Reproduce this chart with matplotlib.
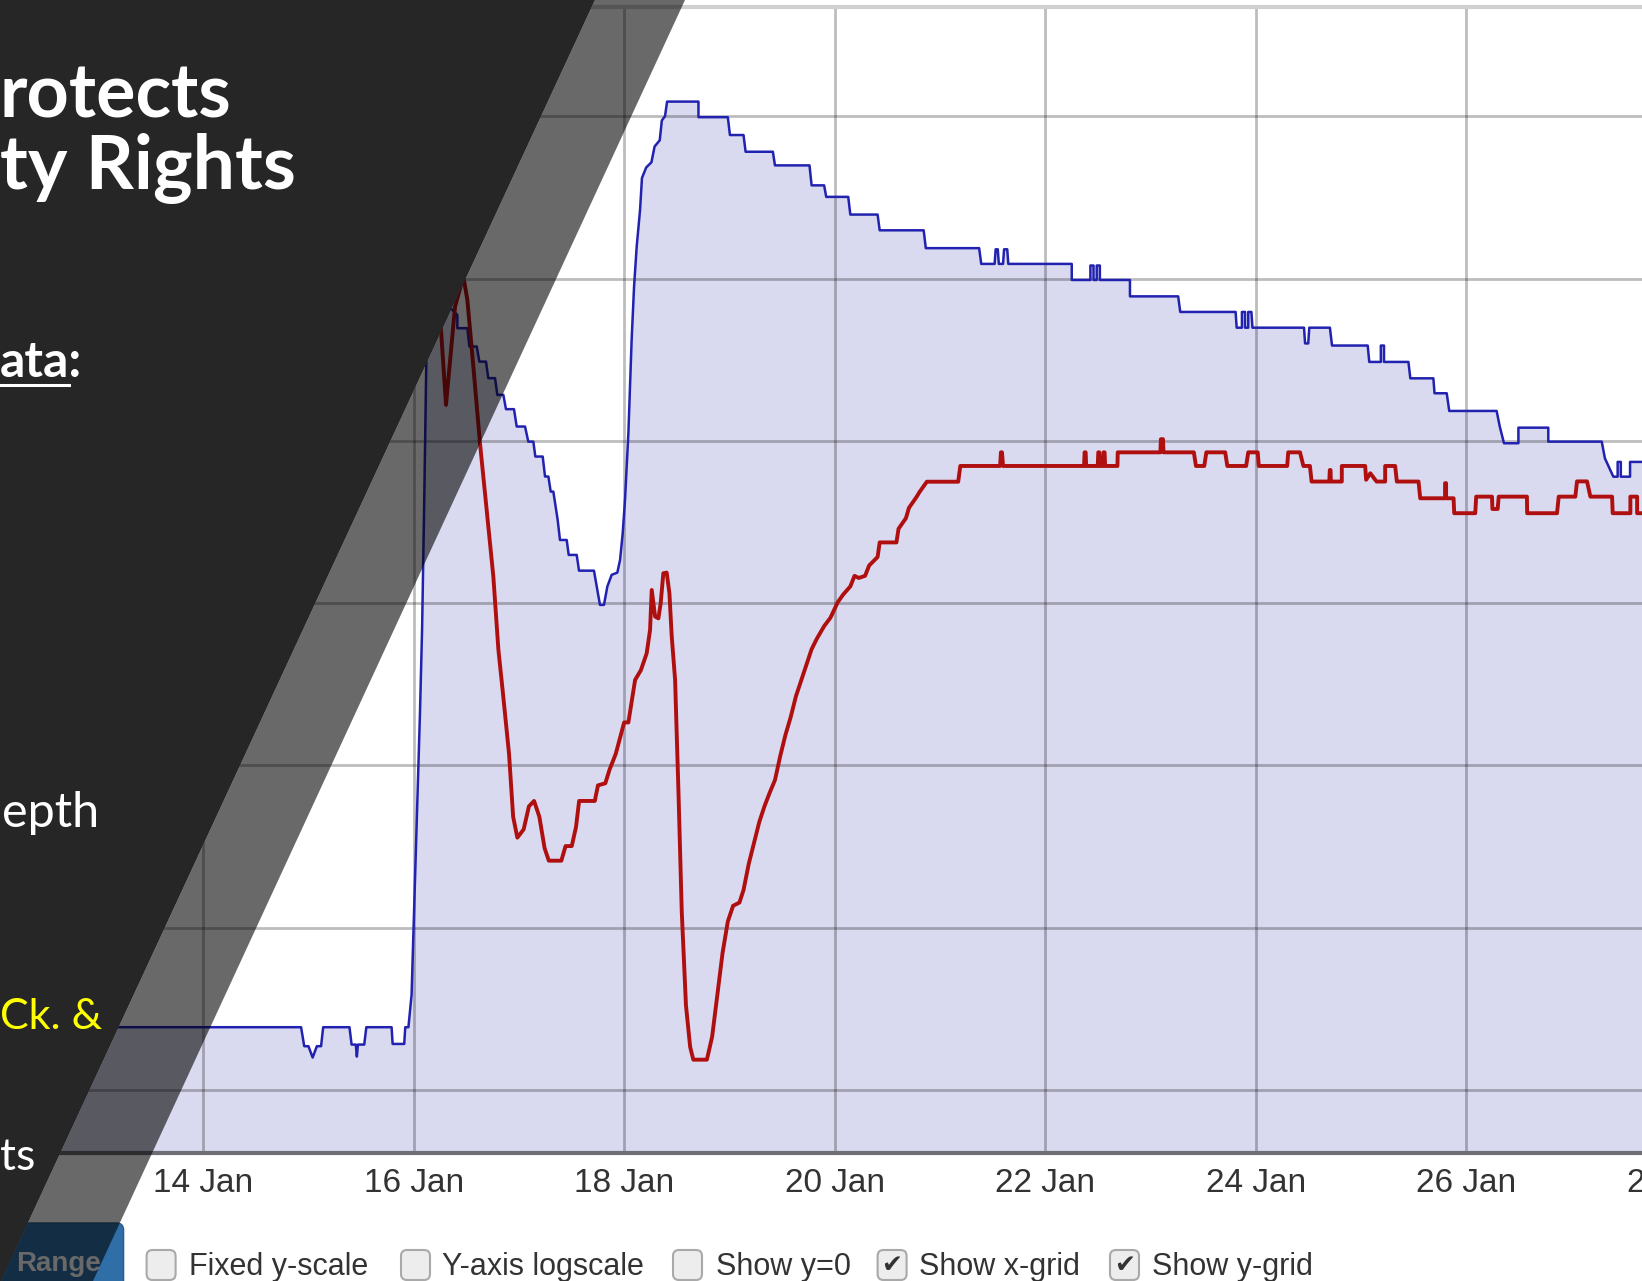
import matplotlib.pyplot as plt
from matplotlib.patches import Polygon, FancyBboxPatch
from matplotlib.lines import Line2D

W, H = 1642, 1281

# blue series (day of January, level) - stepped, filled to the bottom
blue_points = [
    (11.5, 1.387), (14.93, 1.387), (14.96, 1.27), (15.00, 1.27), (15.04, 1.20), (15.08, 1.27), (15.12, 1.27), (15.14, 1.387),
    (15.39, 1.387), (15.41, 1.28), (15.45, 1.28), (15.46, 1.206), (15.47, 1.28), (15.53, 1.28), (15.55, 1.387),
    (15.79, 1.387), (15.80, 1.284), (15.91, 1.284), (15.92, 1.387),
    (15.95, 1.387), (15.98, 1.587), (16.01, 2.232), (16.04, 2.877), (16.06, 3.329), (16.08, 3.845), (16.10, 4.619),
    (16.12, 5.49), (16.15, 5.75), (16.20, 5.85), (16.30, 5.85), (16.415, 5.776),
    (16.415, 5.694), (16.510, 5.694), (16.529, 5.581), (16.599, 5.581), (16.624, 5.488), (16.687, 5.488),
    (16.709, 5.386), (16.773, 5.386), (16.795, 5.283), (16.852, 5.283), (16.877, 5.195), (16.953, 5.195),
    (16.979, 5.088), (17.058, 5.088), (17.089, 4.995), (17.137, 4.995), (17.156, 4.903), (17.226, 4.903),
    (17.248, 4.780), (17.280, 4.780), (17.302, 4.687), (17.327, 4.687), (17.349, 4.595), (17.368, 4.513),
    (17.390, 4.389), (17.454, 4.389), (17.473, 4.297), (17.549, 4.297), (17.571, 4.200), (17.713, 4.200),
    (17.739, 4.102), (17.770, 3.989), (17.808, 3.989), (17.840, 4.102), (17.881, 4.174), (17.935, 4.188),
    (17.961, 4.266), (17.986, 4.430), (18.008, 4.636), (18.024, 4.841), (18.040, 5.047), (18.056, 5.334),
    (18.071, 5.622), (18.094, 5.950), (18.119, 6.197), (18.151, 6.423), (18.169, 6.619), (18.209, 6.684),
    (18.259, 6.716), (18.289, 6.813), (18.338, 6.852), (18.358, 6.974), (18.388, 7.000), (18.408, 7.090),
    (18.706, 7.090), (18.706, 6.994), (18.985, 6.994), (19.005, 6.884), (19.134, 6.884), (19.154, 6.781),
    (19.413, 6.781), (19.433, 6.697), (19.761, 6.697), (19.781, 6.574), (19.900, 6.574), (19.920, 6.503),
    (20.129, 6.503), (20.149, 6.394), (20.408, 6.394), (20.428, 6.297), (20.846, 6.297), (20.866, 6.187),
    (21.373, 6.187), (21.393, 6.090),
    (21.52, 6.090), (21.53, 6.18), (21.55, 6.18), (21.56, 6.090), (21.60, 6.090), (21.61, 6.18), (21.64, 6.18), (21.65, 6.090),
    (22.253, 6.090), (22.253, 5.991),
    (22.43, 5.991), (22.43, 6.08), (22.46, 6.08), (22.46, 5.991), (22.49, 5.991), (22.49, 6.08), (22.52, 6.08), (22.52, 5.991),
    (22.806, 5.991), (22.806, 5.890), (23.264, 5.890), (23.284, 5.794),
    (23.81, 5.794), (23.82, 5.697), (23.87, 5.697), (23.87, 5.794), (23.90, 5.794), (23.90, 5.697),
    (23.93, 5.697), (23.93, 5.794), (23.96, 5.794), (23.97, 5.697),
    (24.46, 5.697), (24.47, 5.60), (24.50, 5.60), (24.51, 5.697),
    (24.706, 5.697), (24.726, 5.587),
    (25.065, 5.587), (25.08, 5.486), (25.19, 5.486), (25.19, 5.587), (25.22, 5.587), (25.22, 5.486),
    (25.452, 5.486), (25.47, 5.385), (25.689, 5.385), (25.70, 5.293), (25.816, 5.293), (25.84, 5.184),
    (26.290, 5.184), (26.32, 5.088), (26.36, 4.985), (26.497, 4.985), (26.497, 5.081), (26.781, 5.081),
    (26.781, 4.995), (27.289, 4.995), (27.319, 4.892), (27.399, 4.779), (27.44, 4.779), (27.44, 4.87),
    (27.47, 4.87), (27.47, 4.779), (27.558, 4.779), (27.558, 4.87), (28.5, 4.87),
]

# red series (day of January, level)
red_points = [
    (16.22, 6.10), (16.266, 5.622), (16.307, 5.221), (16.393, 5.827), (16.472, 6.012), (16.51, 5.868),
    (16.567, 5.457), (16.630, 4.985), (16.694, 4.574), (16.757, 4.163), (16.805, 3.712), (16.846, 3.458),
    (16.906, 3.071), (16.945, 2.684), (16.985, 2.555), (17.045, 2.606), (17.095, 2.748), (17.144, 2.781),
    (17.194, 2.684), (17.244, 2.490), (17.284, 2.413), (17.403, 2.413), (17.443, 2.503), (17.502, 2.503),
    (17.542, 2.619), (17.572, 2.781), (17.721, 2.781), (17.751, 2.877), (17.821, 2.890), (17.861, 2.974),
    (17.920, 3.071), (17.960, 3.168), (18.000, 3.265), (18.040, 3.265), (18.104, 3.527), (18.159, 3.587),
    (18.214, 3.691), (18.246, 3.835), (18.262, 4.081), (18.294, 3.917), (18.325, 3.906), (18.347, 3.999),
    (18.372, 4.184), (18.404, 4.188), (18.430, 4.061), (18.452, 3.794), (18.484, 3.527), (18.517, 2.813),
    (18.547, 2.103), (18.587, 1.523), (18.627, 1.265), (18.657, 1.187), (18.786, 1.187), (18.836, 1.329),
    (18.886, 1.587), (18.935, 1.845), (18.985, 2.039), (19.035, 2.135), (19.095, 2.155), (19.134, 2.232),
    (19.184, 2.394), (19.234, 2.523), (19.284, 2.652), (19.333, 2.748), (19.383, 2.832), (19.433, 2.910),
    (19.483, 3.058), (19.532, 3.187), (19.582, 3.297), (19.632, 3.426), (19.682, 3.523), (19.731, 3.619),
    (19.781, 3.716), (19.831, 3.781), (19.900, 3.858), (19.960, 3.910), (20.030, 4.006), (20.080, 4.052),
    (20.149, 4.103), (20.189, 4.168), (20.229, 4.155), (20.289, 4.168), (20.328, 4.232), (20.408, 4.284),
    (20.428, 4.374), (20.587, 4.374), (20.607, 4.458), (20.677, 4.523), (20.706, 4.587), (20.776, 4.652),
    (20.806, 4.684), (20.876, 4.748), (21.174, 4.748), (21.194, 4.845),
    (21.572, 4.845), (21.58, 4.929), (21.59, 4.929), (21.60, 4.845),
    (22.37, 4.845), (22.375, 4.929), (22.385, 4.929), (22.39, 4.845), (22.50, 4.845), (22.505, 4.929),
    (22.515, 4.929), (22.52, 4.845), (22.55, 4.845), (22.555, 4.929), (22.565, 4.929), (22.57, 4.845),
    (22.687, 4.845), (22.69, 4.929), (23.095, 4.929), (23.10, 5.01), (23.12, 5.01), (23.125, 4.929),
    (23.413, 4.929), (23.433, 4.845), (23.512, 4.845), (23.532, 4.929), (23.711, 4.929), (23.731, 4.845),
    (23.910, 4.845), (23.930, 4.929), (24.02, 4.929), (24.03, 4.845), (24.30, 4.845), (24.31, 4.929),
    (24.422, 4.929), (24.454, 4.845), (24.516, 4.845), (24.532, 4.749), (24.70, 4.749), (24.705, 4.82),
    (24.712, 4.82), (24.715, 4.749), (24.819, 4.749), (24.819, 4.845), (25.041, 4.845), (25.05, 4.76),
    (25.09, 4.80), (25.136, 4.76), (25.15, 4.749), (25.231, 4.749), (25.231, 4.845), (25.326, 4.845),
    (25.342, 4.749), (25.548, 4.749), (25.564, 4.646), (25.80, 4.646), (25.80, 4.739), (25.81, 4.739),
    (25.81, 4.646), (25.881, 4.646), (25.887, 4.554), (26.087, 4.554), (26.096, 4.656), (26.246, 4.656),
    (26.25, 4.58), (26.30, 4.58), (26.31, 4.656), (26.578, 4.656), (26.58, 4.554), (26.864, 4.554),
    (26.880, 4.656), (27.038, 4.656), (27.054, 4.75), (27.149, 4.75), (27.181, 4.656), (27.387, 4.656),
    (27.393, 4.554), (27.561, 4.554), (27.561, 4.656), (27.625, 4.656), (27.625, 4.554), (28.5, 4.554),
]

tick_days = [14, 16, 18, 20, 22, 24, 26, 28]
tick_labels = ["14 Jan", "16 Jan", "18 Jan", "20 Jan", "22 Jan", "24 Jan", "26 Jan", "28 Jan"]
grid_levels = [1, 2, 3, 4, 5, 6, 7]

controls = ["Fixed y-scale", "Y-axis logscale", "Show y=0", "Show x-grid", "Show y-grid"]
checked = [False, False, False, True, True]

blue_day, blue_val = zip(*blue_points)
red_day, red_val = zip(*red_points)


def fx(px):
    return px / W


def fy(py):
    return 1 - py / H


fig = plt.figure(figsize=(W / 100, H / 100), dpi=100)
fig.patch.set_facecolor('white')

# chart area (runs off both sides of the picture)
ax = fig.add_axes([-59.9 / W, 128 / H, 1789.1 / W, 1145.7 / H])
ax.fill_between(blue_day, blue_val, 0, color='#d9d9ef', lw=0, zorder=1)
ax.plot(blue_day, blue_val, color='#2222b0', lw=1.8, zorder=3)
ax.plot(red_day, red_val, color='#b00f0f', lw=2.8, zorder=4, solid_joinstyle='round')
ax.set_xlim(11.5, 28.5)
ax.set_ylim(0.612, 7.671)
ax.set_xticks(tick_days)
ax.set_xticklabels(tick_labels, fontsize=24, color='#333333', family='Liberation Sans')
ax.set_yticks(grid_levels)
ax.tick_params(axis='y', left=False, labelleft=False)
ax.tick_params(axis='x', length=0, pad=11)
ax.grid(True, color='black', alpha=0.26, lw=2.0)
for s in ['left', 'right']:
    ax.spines[s].set_visible(False)
ax.spines['top'].set_color('#d0d0d0')
ax.spines['top'].set_linewidth(3)
ax.spines['bottom'].set_color('#6e6e74')
ax.spines['bottom'].set_linewidth(3)

# controls row under the chart
inch = fig.dpi_scale_trans
btn = FancyBboxPatch((-0.3, -0.3), 1.236 + 0.3 - 0.06, (H - 1223) / 100 + 0.3 - 0.06,
                     boxstyle='round,pad=0.06,rounding_size=0.07', transform=inch,
                     facecolor='#2f6ea6', edgecolor='#2a6090', lw=1, zorder=2)
fig.add_artist(btn)
fig.text(fx(58), fy(1264), "Range", ha='center', va='center', fontsize=20, fontweight='bold',
         color='white', family='Liberation Sans', zorder=3)

box_x = [146.6, 401, 673, 877.6, 1110]
label_x = [188.5, 442, 716.3, 919.4, 1152]
for bx, lx, name, on in zip(box_x, label_x, controls, checked):
    cb = FancyBboxPatch((bx / 100, (H - 1280) / 100), 0.29, 0.30,
                        boxstyle='round,pad=0,rounding_size=0.06', transform=inch,
                        facecolor='#ededed', edgecolor='#a9a9a9', lw=1.5, zorder=2)
    fig.add_artist(cb)
    if on:
        fig.text(fx(bx + 14.5), fy(1265), "\u2714", ha='center', va='center', fontsize=18,
                 color='#333333', family='DejaVu Sans', zorder=3)
    fig.text(fx(lx), fy(1267), name, ha='left', va='center', fontsize=22,
             color='#333333', family='Liberation Sans', zorder=3)

# slide banner laid over the screenshot
dark = Polygon([(0, 1), (fx(595), 1), (fx(1), 0), (0, 0)], closed=True,
               transform=fig.transFigure, facecolor='#262626', edgecolor='none', zorder=10)
band = Polygon([(fx(595), 1), (fx(685), 1), (fx(93), 0), (fx(1), 0)], closed=True,
               transform=fig.transFigure, facecolor='black', alpha=0.59, edgecolor='none', zorder=10)
fig.add_artist(dark)
fig.add_artist(band)

fig.text(fx(0), fy(118), "rotects", fontsize=53, fontweight='bold', color='white',
         family='Lato', va='baseline', ha='left', zorder=11)
fig.text(fx(0), fy(188.5), "ty Rights", fontsize=54, fontweight='bold', color='white',
         family='Lato', va='baseline', ha='left', zorder=11)
fig.text(fx(0), fy(377), "ata:", fontsize=36, fontweight='bold', color='white',
         family='Lato', va='baseline', ha='left', zorder=11)
fig.add_artist(Line2D([0, fx(69)], [fy(385), fy(385)], transform=fig.transFigure,
                      color='white', lw=2.2, zorder=11))
fig.text(fx(2), fy(827), "epth", fontsize=35, color='white',
         family='Lato', va='baseline', ha='left', zorder=11)
fig.text(fx(0), fy(1029), "Ck. &", fontsize=31, color='#ffff00',
         family='Lato', va='baseline', ha='left', zorder=11)
fig.text(fx(0), fy(1170), "ts", fontsize=32, color='white',
         family='Lato', va='baseline', ha='left', zorder=11)

fig.savefig('out.png', dpi=100)
